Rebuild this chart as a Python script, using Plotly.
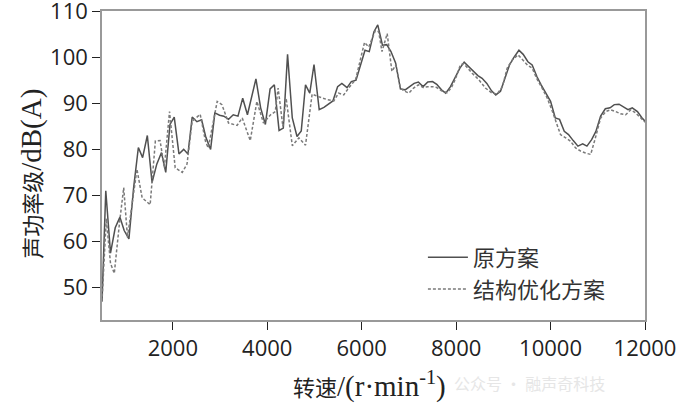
import plotly.graph_objects as go

# 原方案 (solid)
rpm_orig = [500, 580, 680, 780, 880, 970, 1070, 1170, 1270, 1360, 1460, 1560, 1660, 1760,
            1850, 1940, 2030, 2130, 2230, 2320, 2410, 2510, 2610, 2700, 2800, 2890, 2990,
            3080, 3180, 3280, 3380, 3480, 3580, 3670, 3760, 3860, 3960, 4060, 4150, 4250,
            4340, 4430, 4530, 4630, 4720, 4810, 4900, 4990, 5100, 5200, 5300, 5390, 5490,
            5580, 5690, 5780, 5880, 5970, 6070, 6160, 6260, 6340, 6440, 6530, 6620, 6720,
            6820, 6920, 7010, 7110, 7200, 7300, 7400, 7500, 7590, 7690, 7780, 7880, 7970,
            8080, 8170, 8270, 8360, 8460, 8550, 8650, 8750, 8840, 8940, 9030, 9130, 9220,
            9330, 9420, 9520, 9610, 9710, 9800, 9900, 10000, 10100, 10190, 10290, 10380,
            10480, 10580, 10680, 10770, 10870, 10960, 11060, 11160, 11260, 11350, 11450,
            11540, 11640, 11730, 11840, 11930, 12000]
spl_orig = [47, 71, 57.5, 63, 65.3, 62.4, 60.6, 71.7, 80.4, 78.2, 83, 72.8, 76.8, 79.3,
            75, 85.4, 87, 79, 80, 79, 87, 86, 86.4, 82.6, 80, 87.9, 87.4,
            87.2, 86.5, 87.5, 87.2, 91.1, 87.5, 91.5, 95.3, 89, 85.4, 93.1, 94, 84.1,
            84.6, 100.6, 86.8, 82.8, 84, 94, 92.2, 98.4, 88.6, 89.1, 89.8, 90.5, 93.6,
            94.3, 93.4, 94.7, 95, 97.9, 101.5, 101.2, 105.5, 107, 102.6, 102.7, 101.2, 98.7,
            93.1, 92.9, 93.6, 94.3, 94.6, 93.6, 94.6, 94.7, 94.1, 92.9, 92.2, 93.6, 95.4,
            97.6, 98.9, 97.9, 96.9, 96, 95.4, 94.3, 92.7, 91.8, 92.6, 95.1, 98.3, 99.9,
            101.5, 100.6, 99, 98.3, 95.8, 94, 92.2, 90.4, 86.8, 86.5, 83.9, 83.2,
            81.9, 80.7, 81.2, 80.7, 82.1, 83.9, 87.2, 88.8, 89, 89.7, 89.8,
            89.3, 88.6, 89, 88.2, 86.9, 86.1]

# 结构优化方案 (dotted)
rpm_opt = [500, 590, 680, 760, 870, 960, 1040, 1240, 1350, 1520, 1630, 1730, 1820, 1930,
           2050, 2200, 2300, 2410, 2580, 2690, 2750, 2940, 3040, 3180, 3360, 3470, 3640,
           3780, 3920, 4070, 4170, 4230, 4330, 4400, 4530, 4670, 4810, 4950, 5060, 5160,
           5270, 5410, 5510, 5620, 5730, 5870, 6010, 6060, 6150, 6290, 6360, 6430, 6540,
           6640, 6720, 6820, 6910, 7000, 7100, 7200, 7300, 7400, 7500, 7590, 7690, 7810,
           7900, 7990, 8090, 8160, 8340, 8480, 8620, 8760, 8870, 8980, 9080, 9190, 9310,
           9400, 9510, 9610, 9720, 9820, 9930, 10040, 10140, 10210, 10320, 10420, 10530,
           10640, 10740, 10850, 10950, 11060, 11170, 11270, 11380, 11480, 11590, 11700,
           11800, 11910, 12000]
spl_opt = [47, 65, 55.3, 53.1, 64, 71.7, 60.9, 75.7, 69.5, 68, 81.8, 81.9, 76, 88.2,
           76, 75, 76.8, 86.1, 87.6, 81.8, 80.3, 90.4, 89.7, 85.7, 85.2, 86.8, 81.9,
           90.4, 85.7, 87.5, 88.2, 93.3, 85, 91.1, 80.8, 82.5, 80.9, 92, 91.5, 91.1,
           90.8, 90.5, 92.2, 91.8, 93.4, 95.1, 101.2, 103.2, 102.2, 105.8, 105.5, 101.2, 105.1,
           96.9, 98.3, 93.3, 92.6, 92.2, 93.3, 94, 93.4, 93.6, 93.6, 93.4, 92.7, 92.3,
           93.4, 95.4, 98.3, 98.6, 96.5, 95.1, 93.3, 92.2, 92, 93.6, 97.6, 99.4, 100.5,
           99.4, 98.3, 97.6, 95.1, 93.3, 91.1, 88.2, 85, 83.2, 82.5, 81.8, 80.3,
           79.6, 79.2, 78.9, 82.5, 86.8, 88.2, 88.6, 88.2, 87.7, 87.5, 88.6,
           87.9, 86.9, 85.9]

x_ticks = [2000, 4000, 6000, 8000, 10000, 12000]
x_labels = ["2000", "4000", "6000", "8000", "10000", "12000"]
y_ticks = [50, 60, 70, 80, 90, 100, 110]

serif = "Liberation Serif, Noto Sans CJK SC, serif"
sans = "Open Sans, sans-serif"

fig = go.Figure()

fig.add_trace(go.Scatter(
    x=rpm_orig, y=spl_orig,
    mode="lines",
    name="原方案",
    line=dict(color="#505050", width=1.5)
))

fig.add_trace(go.Scatter(
    x=rpm_opt, y=spl_opt,
    mode="lines",
    name="结构优化方案",
    line=dict(color="#7a7a7a", width=1.5, dash="3px,2px")
))

axis_common = dict(
    showgrid=False, zeroline=False, automargin=False,
    showline=True, linecolor="#999999", linewidth=1.5, mirror=True,
    ticks="outside", ticklen=8, tickcolor="#222222", tickwidth=1,
    ticklabeloverflow="allow",
    tickfont=dict(family=sans, size=22, color="#222222"),
)

fig.update_xaxes(range=[500, 12000], tickvals=x_ticks, ticktext=x_labels, **axis_common)
fig.update_yaxes(range=[43, 110], tickvals=y_ticks, **axis_common)

fig.update_layout(
    width=682, height=418,
    margin=dict(l=102, r=37, t=11, b=98),
    paper_bgcolor="white", plot_bgcolor="white",
    showlegend=True,
    legend=dict(
        x=0.591, y=0.27, xanchor="left", yanchor="top",
        bgcolor="rgba(0,0,0,0)",
        font=dict(family=serif, size=22, color="#333333"),
        tracegroupgap=0, itemwidth=40
    ),
    annotations=[
        dict(text="声功率级<span style='font-size:29px'>/dB(A)</span>",
             xref="paper", yref="paper",
             x=-0.129, y=0.473, xanchor="center", yanchor="middle",
             textangle=-90, showarrow=False,
             font=dict(family=serif, size=22, color="#222222")),
        dict(text="转速<span style='font-size:29px'>/(r·min<sup>-1</sup>)</span>",
             xref="paper", yref="paper",
             x=0.492, y=-0.209, xanchor="center", yanchor="middle",
             showarrow=False,
             font=dict(family=serif, size=22, color="#222222")),
        dict(text="公众号 · 融声奇科技", xref="paper", yref="paper",
             x=0.788, y=-0.203, xanchor="center", yanchor="middle",
             showarrow=False,
             font=dict(family="Noto Sans CJK SC", size=16, color="#e6e6e6")),
    ]
)

# drop the default 8px body margin so the figure sits at the window corner
fig.write_html("out.html", config={"displayModeBar": False},
               post_script="document.body.style.margin='0';")
